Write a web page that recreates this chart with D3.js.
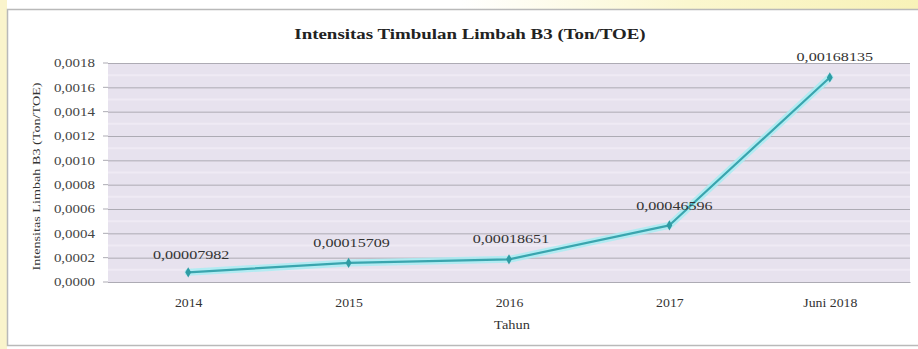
<!DOCTYPE html>
<html>
<head>
<meta charset="utf-8">
<script src="https://cdn.jsdelivr.net/npm/d3@7"></script>
<style>
  html, body { margin: 0; padding: 0; background: #fff; }
  svg { display: block; }
</style>
</head>
<body>
<svg id="chart" width="918" height="349"></svg>
<script>
// Intensity of hazardous waste (B3) generation per TOE, by year
const categories = ["2014", "2015", "2016", "2017", "Juni 2018"];
const values = [0.00007982, 0.00015709, 0.00018651, 0.00046596, 0.00168135];
const valueLabels = ["0,00007982", "0,00015709", "0,00018651", "0,00046596", "0,00168135"];
const yTicks = [0, 0.0002, 0.0004, 0.0006, 0.0008, 0.0010, 0.0012, 0.0014, 0.0016, 0.0018];

const svg = d3.select("#chart");
const W = 918, H = 349;
const serif = "'Liberation Serif', 'DejaVu Serif', serif";

// the typeface is set wide: stretch each string horizontally
function widen(sel, factor) {
  sel.each(function () {
    const w = this.getComputedTextLength();
    d3.select(this).attr("textLength", w * factor).attr("lengthAdjust", "spacingAndGlyphs");
  });
}

// page background: pale yellow strip on the left and a yellow wash top-right
const defs = svg.append("defs");
const topGrad = defs.append("linearGradient").attr("id", "topWash").attr("x1", "0").attr("x2", "1");
topGrad.append("stop").attr("offset", "0.5").attr("stop-color", "#ffffff");
topGrad.append("stop").attr("offset", "0.75").attr("stop-color", "#fbf7cf");
topGrad.append("stop").attr("offset", "1").attr("stop-color", "#f8f2b8");
svg.append("rect").attr("width", W).attr("height", H).attr("fill", "#ffffff");
svg.append("rect").attr("width", W).attr("height", 10).attr("fill", "url(#topWash)");
svg.append("rect").attr("width", 7).attr("height", H).attr("fill", "#faf4cc");

// chart frame
svg.append("rect")
  .attr("x", 7.5).attr("y", 9.5).attr("width", 915).attr("height", 336)
  .attr("fill", "#ffffff").attr("stroke", "#b9b9b9").attr("stroke-width", 1.5);

const margin = { left: 108, right: 8, top: 63, bottom: 67 };
const plotW = W - margin.left - margin.right;
const plotH = H - margin.top - margin.bottom;

const x = d3.scalePoint().domain(categories).range([0, plotW]).padding(0.5);
const y = d3.scaleLinear().domain([0, 0.0018]).range([plotH, 0]);

const g = svg.append("g").attr("transform", `translate(${margin.left},${margin.top})`);

// plot background
g.append("rect").attr("width", plotW).attr("height", plotH).attr("fill", "#e7e2ee");

// faint intermediate stripes
g.append("g").selectAll("line")
  .data(yTicks.slice(0, -1))
  .join("line")
  .attr("x1", 0).attr("x2", plotW)
  .attr("y1", d => y(d + 0.0001)).attr("y2", d => y(d + 0.0001))
  .attr("stroke", "#efeaf4").attr("stroke-width", 2);

// y axis with gridlines
const fmt = d => d.toFixed(4).replace(".", ",");
const yAxis = g.append("g")
  .call(d3.axisLeft(y).tickValues(yTicks).tickFormat(fmt).tickSize(-plotW).tickPadding(13));
yAxis.select(".domain").remove();
yAxis.selectAll(".tick line").attr("stroke", "#adabb4").attr("stroke-width", 1);
yAxis.selectAll(".tick text")
  .attr("font-family", serif).attr("font-size", 11.5).attr("fill", "#444")
  .call(widen, 1.3);

// small tick marks left of the plot
g.append("g").selectAll("line")
  .data(yTicks)
  .join("line")
  .attr("x1", -5).attr("x2", 0)
  .attr("y1", d => y(d)).attr("y2", d => y(d))
  .attr("stroke", "#adabb4");

// x axis
const xAxis = g.append("g")
  .attr("transform", `translate(0,${plotH})`)
  .call(d3.axisBottom(x).tickSize(0).tickPadding(17));
xAxis.select(".domain").attr("stroke", "#adabb4");
xAxis.selectAll(".tick text")
  .attr("font-family", serif).attr("font-size", 11.5).attr("fill", "#333")
  .call(widen, 1.2);

// line: soft cyan halo under a teal stroke
const data = categories.map((c, i) => ({ c, v: values[i], label: valueLabels[i] }));
const line = d3.line().x(d => x(d.c)).y(d => y(d.v));

g.append("path").datum(data).attr("d", line)
  .attr("fill", "none").attr("stroke", "#a8ecf2").attr("stroke-width", 7)
  .attr("stroke-linejoin", "round").attr("stroke-linecap", "round").attr("opacity", 0.85);
g.append("path").datum(data).attr("d", line)
  .attr("fill", "none").attr("stroke", "#3aa5ae").attr("stroke-width", 2.2)
  .attr("stroke-linejoin", "round");

g.selectAll("path.marker")
  .data(data)
  .join("path")
  .attr("class", "marker")
  .attr("d", d3.symbol().type(d3.symbolDiamond).size(30))
  .attr("transform", d => `translate(${x(d.c)},${y(d.v)})`)
  .attr("fill", "#2f9ca4");

// value labels
const labelDy = [-13, -16, -16, -15, -16];
g.selectAll("text.value")
  .data(data)
  .join("text")
  .attr("class", "value")
  .attr("x", (d, i) => x(d.c) + [3, 3, 2, 5, 5][i])
  .attr("y", (d, i) => y(d.v) + labelDy[i])
  .attr("text-anchor", "middle")
  .attr("font-family", serif).attr("font-size", 11.5).attr("fill", "#333")
  .text(d => d.label)
  .call(widen, 1.4);

// title
svg.append("text")
  .attr("x", 470).attr("y", 39)
  .attr("text-anchor", "middle")
  .attr("font-family", serif).attr("font-size", 15.5).attr("font-weight", "bold").attr("fill", "#222")
  .text("Intensitas Timbulan Limbah B3 (Ton/TOE)")
  .call(widen, 1.22);

// axis titles
svg.append("text")
  .attr("x", 512).attr("y", 329)
  .attr("text-anchor", "middle")
  .attr("font-family", serif).attr("font-size", 11.5).attr("fill", "#333")
  .text("Tahun")
  .call(widen, 1.25);

svg.append("text")
  .attr("transform", `translate(40,${margin.top + plotH / 2 + 4}) rotate(-90)`)
  .attr("text-anchor", "middle")
  .attr("font-family", serif).attr("font-size", 10.5).attr("fill", "#333")
  .text("Intensitas Limbah B3 (Ton/TOE)")
  .call(widen, 1.35);
</script>
</body>
</html>
